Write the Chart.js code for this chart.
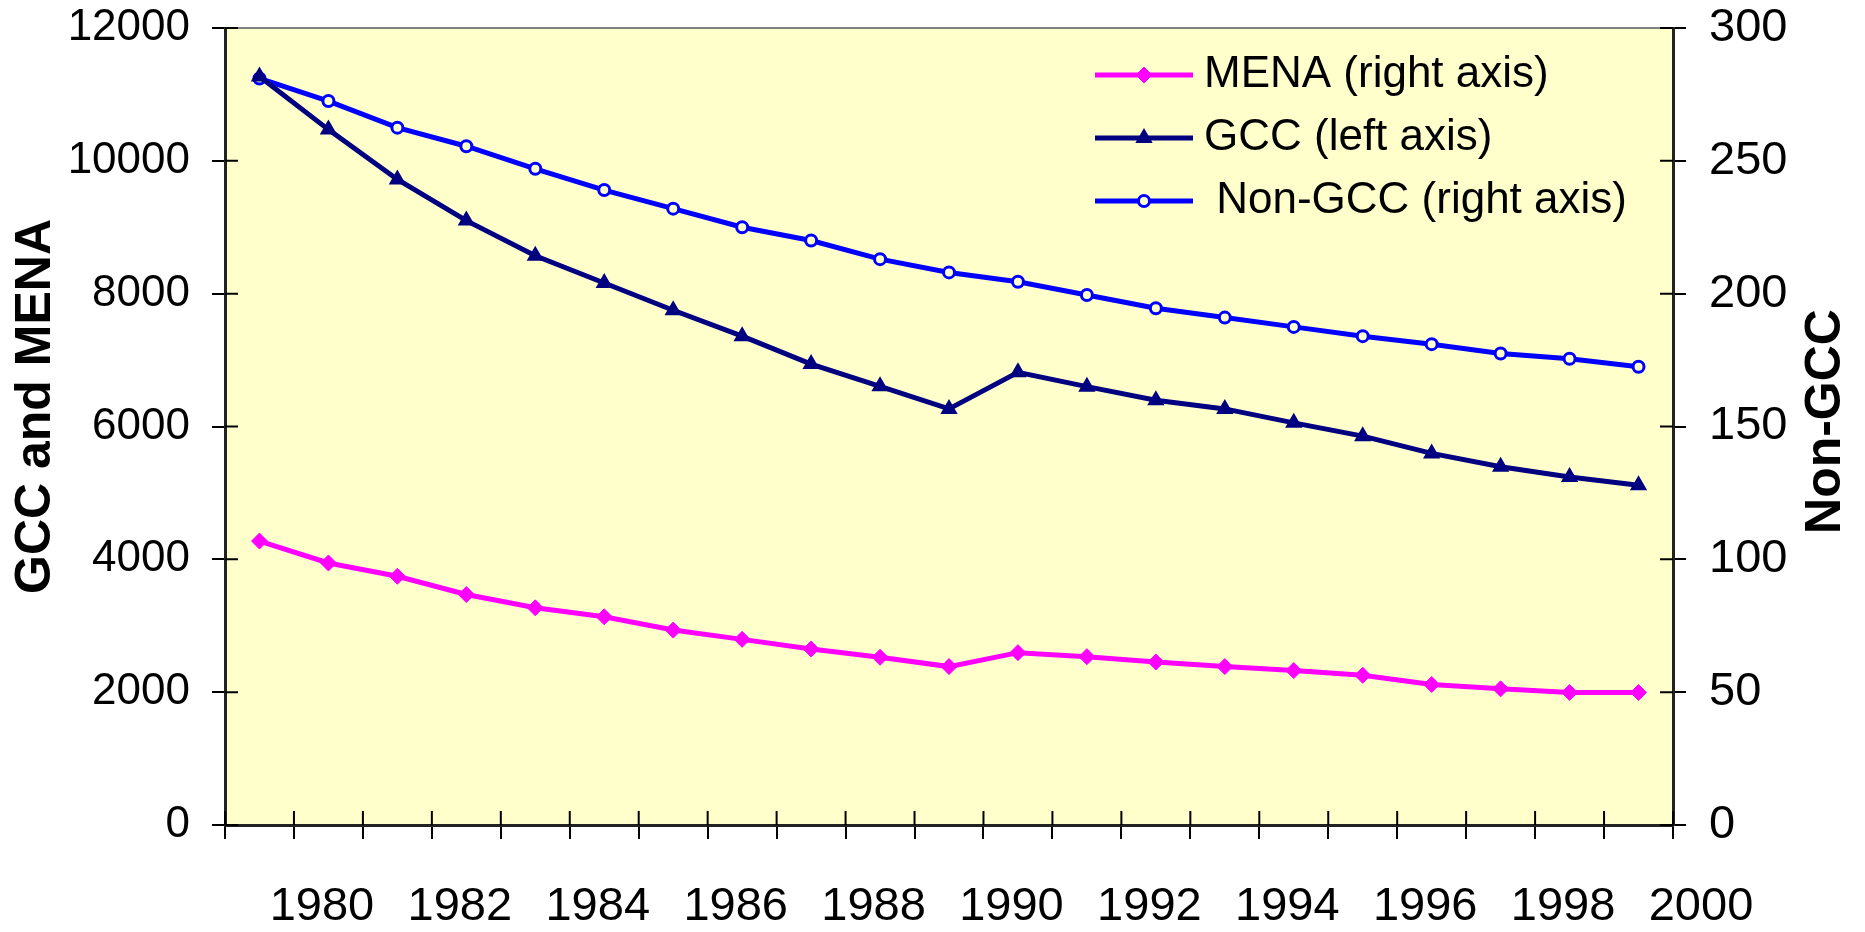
<!DOCTYPE html>
<html>
<head>
<meta charset="utf-8">
<style>
  html, body { margin: 0; padding: 0; background: #ffffff; }
  canvas { display: block; }
</style>
<script src="https://cdn.jsdelivr.net/npm/chart.js@4.4.1/dist/chart.umd.min.js"></script>
</head>
<body>
<canvas id="c" width="1865" height="932"></canvas>
<script>
// ---- data ----
const categories = [1979, 1980, 1981, 1982, 1983, 1984, 1985, 1986, 1987, 1988, 1989,
                    1990, 1991, 1992, 1993, 1994, 1995, 1996, 1997, 1998, 1999];
const menaValues = [4275, 3945, 3745, 3470, 3270, 3135, 2935, 2795, 2650, 2525, 2385,
                    2595, 2535, 2455, 2385, 2325, 2255, 2115, 2050, 1995, 1995];
const gccValues = [11270, 10470, 9720, 9100, 8570, 8160, 7750, 7360, 6940, 6605, 6265,
                   6815, 6600, 6395, 6265, 6055, 5855, 5595, 5395, 5240, 5115];
const nonGccValues = [281, 272.5, 262.5, 255.5, 247, 239, 232, 225, 220, 213, 208,
                      204.5, 199.5, 194.5, 191, 187.5, 184, 181, 177.5, 175.5, 172.5];
const xTickLabels = ['1980', '1982', '1984', '1986', '1988', '1990', '1992', '1994', '1996', '1998', '2000'];
const leftTicks = [0, 2000, 4000, 6000, 8000, 10000, 12000];
const rightTicks = [0, 50, 100, 150, 200, 250, 300];
const seriesLabels = ['MENA (right axis)', 'GCC (left axis)', ' Non-GCC (right axis)'];
const leftTitle = 'GCC and MENA';
const rightTitle = 'Non-GCC';

const FONT = "'Liberation Sans', Arial, Helvetica, sans-serif";
Chart.defaults.font.family = FONT;
Chart.defaults.color = '#000';

const toXY = vals => categories.map((c, i) => ({ x: c, y: vals[i] }));

const bgPlugin = {
  id: 'bgPlugin',
  beforeDraw(chart) {
    const { ctx, chartArea: a } = chart;
    ctx.save();
    ctx.fillStyle = '#FFFFCC';
    ctx.fillRect(a.left, a.top, a.right - a.left, a.bottom - a.top);
    ctx.strokeStyle = '#808080';
    ctx.lineWidth = 2;
    ctx.beginPath();
    ctx.moveTo(a.left, a.top);
    ctx.lineTo(a.right, a.top);
    ctx.stroke();
    ctx.restore();
  }
};

const innerTicks = {
  id: 'innerTicks',
  beforeDatasetsDraw(chart) {
    const { ctx, chartArea: a, scales } = chart;
    ctx.save();
    ctx.strokeStyle = '#000';
    ctx.lineWidth = 2;
    ctx.beginPath();
    scales.x.ticks.forEach(t => {
      const px = scales.x.getPixelForValue(t.value);
      ctx.moveTo(px, a.bottom);
      ctx.lineTo(px, a.bottom - 14);
    });
    scales.y.ticks.forEach(t => {
      const py = scales.y.getPixelForValue(t.value);
      ctx.moveTo(a.left, py);
      ctx.lineTo(a.left + 13, py);
    });
    scales.y1.ticks.forEach(t => {
      const py = scales.y1.getPixelForValue(t.value);
      ctx.moveTo(a.right, py);
      ctx.lineTo(a.right - 13, py);
    });
    ctx.stroke();
    ctx.restore();
  }
};

const titlesPlugin = {
  id: 'titlesPlugin',
  afterDraw(chart) {
    const { ctx, chartArea: a } = chart;
    ctx.save();
    ctx.fillStyle = '#000';
    ctx.font = 'bold 50px ' + FONT;
    ctx.textAlign = 'center';
    ctx.textBaseline = 'middle';
    const midY = (a.top + a.bottom) / 2;
    ctx.save();
    ctx.translate(36, midY - 20);
    ctx.rotate(-Math.PI / 2);
    ctx.fillText(leftTitle, 0, 0);
    ctx.restore();
    ctx.save();
    ctx.translate(chart.width - 39, midY - 5);
    ctx.rotate(-Math.PI / 2);
    ctx.fillText(rightTitle, 0, 0);
    ctx.restore();
    ctx.restore();
  }
};

const legendPlugin = {
  id: 'legendPlugin',
  afterDatasetsDraw(chart) {
    const { ctx, chartArea: a } = chart;
    const x0 = a.right - 578;
    const sampleW = 98;
    ctx.save();
    chart.data.datasets.forEach((ds, i) => {
      const y = a.top + 47 + i * 63;
      ctx.strokeStyle = ds.borderColor;
      ctx.lineWidth = ds.borderWidth;
      ctx.beginPath();
      ctx.moveTo(x0, y);
      ctx.lineTo(x0 + sampleW, y);
      ctx.stroke();
      ctx.fillStyle = ds.pointBackgroundColor;
      ctx.strokeStyle = ds.pointBorderColor;
      ctx.lineWidth = ds.pointBorderWidth;
      Chart.helpers.drawPoint(ctx, {
        pointStyle: ds.pointStyle,
        radius: ds.pointRadius,
        rotation: 0,
        borderWidth: ds.pointBorderWidth
      }, x0 + sampleW / 2, y);
      ctx.fillStyle = '#000';
      ctx.font = '44px ' + FONT;
      ctx.textAlign = 'left';
      ctx.textBaseline = 'middle';
      ctx.fillText(ds.label, x0 + sampleW + 11, y);
    });
    ctx.restore();
  }
};

new Chart(document.getElementById('c'), {
  type: 'line',
  data: {
    datasets: [
      {
        label: seriesLabels[0],
        data: toXY(menaValues),
        yAxisID: 'y',
        borderColor: '#FF00FF',
        borderWidth: 5,
        pointStyle: 'rectRot',
        pointRadius: 8,
        pointBackgroundColor: '#FF00FF',
        pointBorderColor: '#FF00FF',
        pointBorderWidth: 1,
        tension: 0
      },
      {
        label: seriesLabels[1],
        data: toXY(gccValues),
        yAxisID: 'y',
        borderColor: '#000080',
        borderWidth: 5,
        pointStyle: 'triangle',
        pointRadius: 8,
        pointBackgroundColor: '#000080',
        pointBorderColor: '#000080',
        pointBorderWidth: 2,
        tension: 0
      },
      {
        label: seriesLabels[2],
        data: toXY(nonGccValues),
        yAxisID: 'y1',
        borderColor: '#0000FF',
        borderWidth: 5,
        pointStyle: 'circle',
        pointRadius: 5.5,
        pointBackgroundColor: '#FFFFCC',
        pointBorderColor: '#0000FF',
        pointBorderWidth: 3,
        tension: 0
      }
    ]
  },
  options: {
    responsive: false,
    animation: false,
    devicePixelRatio: 1,
    layout: { padding: { top: 28, left: 0, right: 0, bottom: 0 } },
    plugins: {
      legend: { display: false },
      tooltip: { enabled: false },
      title: { display: false }
    },
    scales: {
      x: {
        type: 'linear',
        min: categories[0] - 0.5,
        max: categories[categories.length - 1] + 0.5,
        afterBuildTicks(scale) {
          const t = [];
          for (let i = 0; i <= categories.length; i++) t.push({ value: categories[0] - 0.5 + i });
          scale.ticks = t;
        },
        afterFit(scale) { scale.height = 107; scale.paddingLeft = 0; scale.paddingRight = 0; },
        border: { display: true, color: '#222', width: 3 },
        grid: { drawOnChartArea: false, drawTicks: true, tickLength: 14, color: '#000', lineWidth: 2 },
        ticks: {
          autoSkip: false,
          maxRotation: 0,
          minRotation: 0,
          padding: 40,
          labelOffset: 28,
          font: { size: 47 },
          color: '#000',
          callback: (v) => {
            const s = String(Math.round(v + 0.5));
            return xTickLabels.includes(s) ? s : '';
          }
        }
      },
      y: {
        type: 'linear',
        position: 'left',
        min: leftTicks[0],
        max: leftTicks[leftTicks.length - 1],
        afterBuildTicks(scale) { scale.ticks = leftTicks.map(v => ({ value: v })); },
        afterFit(scale) { scale.width = 225; scale.paddingTop = 0; scale.paddingBottom = 0; },
        border: { display: true, color: '#222', width: 3 },
        grid: { drawOnChartArea: false, drawTicks: true, tickLength: 13, color: '#000', lineWidth: 2 },
        ticks: { padding: 22, font: { size: 44 }, color: '#000', callback: (v) => String(v) }
      },
      y1: {
        type: 'linear',
        position: 'right',
        min: rightTicks[0],
        max: rightTicks[rightTicks.length - 1],
        afterBuildTicks(scale) { scale.ticks = rightTicks.map(v => ({ value: v })); },
        afterFit(scale) { scale.width = 192; scale.paddingTop = 0; scale.paddingBottom = 0; },
        border: { display: true, color: '#222', width: 3 },
        grid: { drawOnChartArea: false, drawTicks: true, tickLength: 13, color: '#000', lineWidth: 2 },
        ticks: { padding: 23, font: { size: 47 }, color: '#000', callback: (v) => String(v) }
      }
    }
  },
  plugins: [bgPlugin, innerTicks, titlesPlugin, legendPlugin]
});
</script>
</body>
</html>
